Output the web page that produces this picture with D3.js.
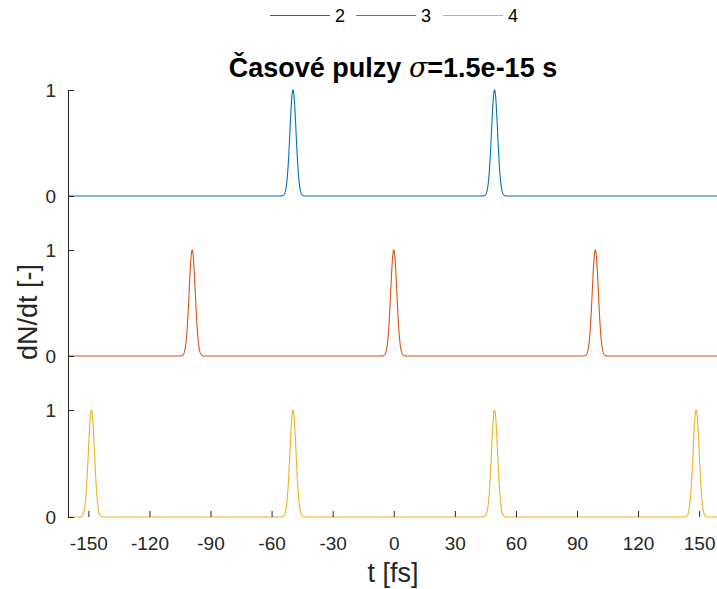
<!DOCTYPE html>
<html><head><meta charset="utf-8">
<script src="https://cdn.jsdelivr.net/npm/d3@7"></script>
<style>body{margin:0;background:#fff}svg{display:block;font-family:"Liberation Sans",Arial,sans-serif}</style>
</head><body><svg id="c" width="717" height="589"></svg>
<script>
// Data
const seriesNames = ["2", "3", "4"];
const seriesColors = ["#0072BD", "#D95319", "#EDB120"];
const pulseCenters2 = [-49.5, 49.5];
const pulseCenters3 = [-99, 0, 99];
const pulseCenters4 = [-148.5, -49.5, 49.5, 148.5];
const pulseHeight = 1;
const sigmaFs = 1.5; // σ = 1.5e-15 s
const xTicks = [-150, -120, -90, -60, -30, 0, 30, 60, 90, 120, 150];
const yTicks = [0, 1];
const xDomain = [-160, 160];

const allCenters = [pulseCenters2, pulseCenters3, pulseCenters4];
const svg = d3.select("#c");
const x = d3.scaleLinear().domain(xDomain).range([68, 719.5]);
const panels = [[196, 90], [356, 250], [517, 410]];
const ys = panels.map(p => d3.scaleLinear().domain([0, 1]).range(p));

svg.append("clipPath").attr("id", "cp").append("rect")
  .attr("x", 68).attr("y", 0).attr("width", 660).attr("height", 589);

// curves sampled from Gaussian pulse train
const step = 0.1;
const ts = d3.range(xDomain[0], xDomain[1] + step / 2, step);
allCenters.forEach((centers, i) => {
  const pts = ts.map(t => [t, d3.sum(centers, c => pulseHeight * Math.exp(-0.5 * ((t - c) / sigmaFs) ** 2))]);
  svg.append("path").datum(pts)
    .attr("clip-path", "url(#cp)")
    .attr("fill", "none").attr("stroke", seriesColors[i]).attr("stroke-width", 1.1)
    .attr("d", d3.line().x(d => x(d[0])).y(d => ys[i](d[1])));
});

const axisColor = "#262626";
const ff = "Liberation Sans, Arial, sans-serif";
// y axes
ys.forEach(y => {
  const g = svg.append("g").attr("transform", "translate(68,0)")
    .call(d3.axisRight(y).tickValues(yTicks).tickSize(6).tickFormat(d3.format("d")));
  g.select(".domain").remove();
  g.selectAll(".tick line").attr("stroke", axisColor);
  g.selectAll(".tick text").attr("x", -12).attr("text-anchor", "end")
    .attr("font-size", 19).attr("fill", axisColor).attr("font-family", ff);
});
svg.append("line").attr("x1", 68.5).attr("x2", 68.5).attr("y1", 90).attr("y2", 517.5)
  .attr("stroke", axisColor).attr("stroke-width", 1);

// x axis
const gx = svg.append("g").attr("transform", "translate(0,517)")
  .call(d3.axisTop(x).tickValues(xTicks).tickSize(6).tickFormat(d3.format("d")));
gx.select(".domain").remove();
gx.selectAll(".tick line").attr("stroke", axisColor);
gx.selectAll(".tick text").attr("y", 33).attr("dy", 0).attr("font-size", 19).attr("fill", axisColor)
  .attr("font-family", ff).text(d => d < 0 ? "-" + Math.abs(d) : d);

// labels
svg.append("text").attr("x", 393).attr("y", 582).attr("text-anchor", "middle")
  .attr("font-size", 27).attr("fill", axisColor).text("t [fs]");
svg.append("text").attr("transform", "translate(37,312) rotate(-90)").attr("text-anchor", "middle")
  .attr("font-size", 27).attr("fill", axisColor).text("dN/dt [-]");

const title = svg.append("text").attr("x", 393).attr("y", 77).attr("text-anchor", "middle")
  .attr("font-size", 27).attr("font-weight", "bold").attr("fill", "#000");
title.append("tspan").text("Časové pulzy ");
title.append("tspan").attr("font-style", "italic").attr("font-family", "DejaVu Serif, serif").attr("font-weight", "normal").text("σ");
title.append("tspan").text("=1.5e-15 s");

// legend
const legX = [270, 356, 443];
seriesNames.forEach((n, i) => {
  svg.append("line").attr("x1", legX[i]).attr("x2", legX[i] + 60).attr("y1", 15.5).attr("y2", 15.5)
    .attr("stroke", seriesColors[i]).attr("stroke-width", 1.1);
  svg.append("text").attr("x", legX[i] + 65).attr("y", 22).attr("font-size", 18).attr("fill", "#000").text(n);
});
</script></body></html>
